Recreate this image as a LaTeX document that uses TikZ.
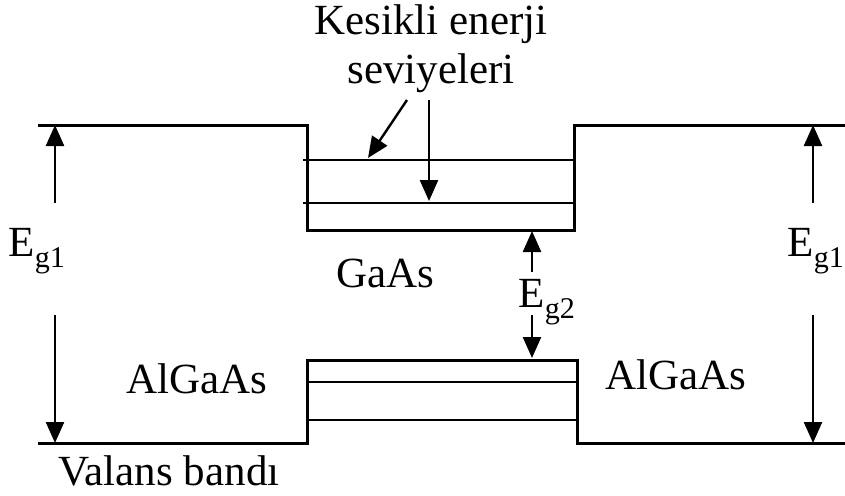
\documentclass[tikz,border=0pt]{standalone}
\usepackage{fontspec}
\setmainfont{Liberation Serif}
\usetikzlibrary{arrows.meta}

\begin{document}
\begin{tikzpicture}[
    x=1pt, y=-1pt,
    band/.style={line width=3pt},
    level/.style={line width=2.8pt},
    gap/.style={-{Triangle[length=21pt,width=18pt]}, line width=2.4pt},
    lbl/.style={font=\fontsize{43}{48}\selectfont, inner sep=0pt, anchor=base}
]
\useasboundingbox (0,0) rectangle (845,495);
% conduction band
\coordinate (cbL) at (38,125);
\coordinate (cbR) at (845,125);
\draw[band] (cbL) -- (307,125) -- (307,230) -- (574,230) -- (574,125) -- (cbR);
\draw[level] (303,160) -- (574,160);
\draw[level] (303,203) -- (574,203);
% valence band
\coordinate (vbL) at (38,443);
\coordinate (vbR) at (845,443);
\draw[band] (vbL) -- (307,443) -- (307,360) -- (577,360) -- (577,443) -- (vbR);
\draw[level] (307,382) -- (577,382);
\draw[level] (307,420) -- (577,420);
% labels
\node[lbl] (title1) at (431,35) {Kesikli enerji};
\node[lbl] (title2) at (431,83) {seviyeleri};
\node[lbl] (gaas) at (385,287) {GaAs};
\node[lbl] (algaasL) at (197,393) {AlGaAs};
\node[lbl] (algaasR) at (676,389) {AlGaAs};
\node[lbl] (valans) at (169,485) {Valans bandı};
\node[lbl] (eg1L) at (37,256) {E\textsubscript{g1}};
\node[lbl] (eg1R) at (816,256) {E\textsubscript{g1}};
\node[lbl] (eg2) at (547,307) {E\textsubscript{g2}};
% arrows
\coordinate (kA) at (407,100);
\coordinate (kB) at (368,158);
\coordinate (kC) at (429,100);
\coordinate (kD) at (429,201);
\draw[gap] (kA) -- (kB);
\draw[gap] (kC) -- (kD);
\coordinate (lt) at (55,203);
\coordinate (lh) at (55,125);
\coordinate (lb) at (55,315);
\coordinate (ll) at (55,443);
\draw[gap] (lt) -- (lh);
\draw[gap] (lb) -- (ll);
\coordinate (rt) at (813,203);
\coordinate (rh) at (813,125);
\coordinate (rb) at (813,315);
\coordinate (rl) at (813,443);
\draw[gap] (rt) -- (rh);
\draw[gap] (rb) -- (rl);
\coordinate (gt) at (532,272);
\coordinate (gh) at (532,231);
\coordinate (gb) at (532,315);
\coordinate (gl) at (532,358);
\draw[gap] (gt) -- (gh);
\draw[gap] (gb) -- (gl);
\end{tikzpicture}
\end{document}
